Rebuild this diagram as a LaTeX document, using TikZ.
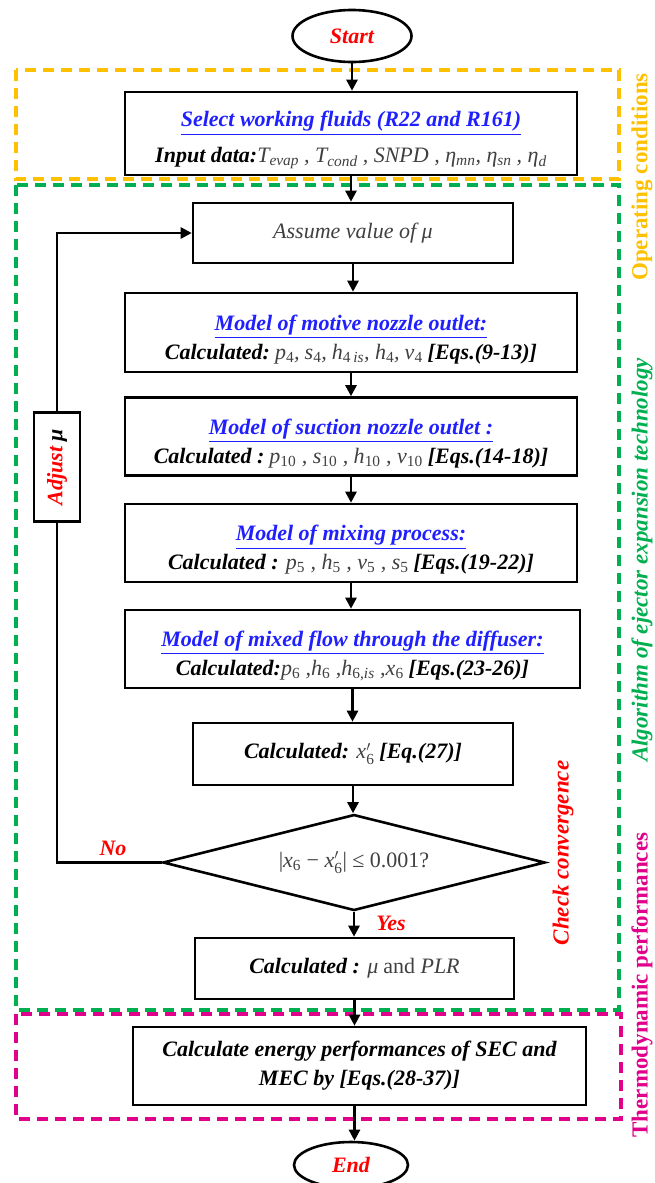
\documentclass[tikz,border=0pt]{standalone}
\usepackage{amsmath}
\usepackage{fontspec}
\setmainfont{Liberation Serif}
\usetikzlibrary{arrows.meta,shapes.geometric}
\definecolor{oc}{HTML}{FFC000}
\definecolor{gc}{HTML}{00B050}
\definecolor{mc}{HTML}{E0008C}
\definecolor{bc}{HTML}{1F1FFF}
\definecolor{rc}{HTML}{FF0000}
\definecolor{mg}{HTML}{404040}
\newcommand{\mv}[1]{{\color{mg}\mdseries\itshape #1}}
\newcommand{\bi}[1]{{\bfseries\itshape #1}}
\newcommand{\ttl}[1]{\rule{0pt}{29pt}{\color{bc}\bfseries\itshape\underline{#1}}}
\newcommand{\sbn}[1]{\textsubscript{\upshape #1}}
\newcommand{\sbi}[1]{\textsubscript{\itshape #1}}
\newcommand{\xpr}{x$^{\prime}_{\text{\upshape 6}}$}
\newcommand{\gp}{\hspace{5pt}}
\tikzset{
  box/.style={draw, line width=2.6pt, rectangle, align=center, inner sep=2pt,
    font=\fontsize{22}{29}\selectfont},
  term/.style={draw, line width=2.6pt, ellipse, inner sep=0pt,
    font=\fontsize{22}{22}\selectfont\bfseries\itshape, text=rc},
  arr/.style={line width=2.6pt, -{Triangle[length=11pt,width=11pt]}},
  ln/.style={line width=2.6pt},
  grp/.style={line width=3.2pt, dash pattern=on 11pt off 7pt},
  side/.style={rotate=90, font=\fontsize{23}{23}\selectfont\bfseries},
  lab/.style={font=\fontsize{22}{22}\selectfont\bfseries\itshape, text=rc},
}
\begin{document}
\begin{tikzpicture}[x=1pt,y=-1pt]
\useasboundingbox (0,0) rectangle (654,1183);

% group frames
\draw[grp, oc] (16,70) rectangle (619,179);
\draw[grp, gc] (16,185) rectangle (619,1010);
\draw[grp, mc] (16,1014) rectangle (621,1119);

% nodes
\node[term, minimum width=119pt, minimum height=52pt] (start) at (352,36) {Start};
\node[box, minimum width=452pt, minimum height=83pt] (sel) at (351,133.5)
  {\ttl{Select working fluids (R22 and R161)}\\[7pt]
   \bi{Input data:}\mv{T\sbi{evap}\gp, T\sbi{cond}\gp, SNPD , η\sbi{mn}, η\sbi{sn}\gp, η\sbi{d}}};
\node[box, minimum width=320pt, minimum height=60pt] (assume) at (353,233)
  {\mv{Assume value of μ}};
\node[box, minimum width=452pt, minimum height=79pt] (motive) at (351,332.5)
  {\ttl{Model of motive nozzle outlet:}\\
   \bi{Calculated:}\gp\mv{p\sbn{4},\gp s\sbn{4},\gp h\textsubscript{\upshape 4\,\itshape is}, h\sbn{4},\gp v\sbn{4}}\gp\bi{[Eqs.(9-13)]}};
\node[box, minimum width=452pt, minimum height=78pt] (suction) at (351,436.5)
  {\ttl{Model of suction nozzle outlet :}\\
   \bi{Calculated :}\gp\mv{p\sbn{10} , s\sbn{10} , h\sbn{10} , v\sbn{10}}\gp\bi{[Eqs.(14-18)]}};
\node[box, minimum width=452pt, minimum height=78pt] (mixing) at (351,543)
  {\ttl{Model of mixing process:}\\
   \bi{Calculated :} \mv{p\sbn{5} , h\sbn{5} , v\sbn{5} , s\sbn{5}}\gp\bi{[Eqs.(19-22)]}};
\node[box, minimum width=455pt, minimum height=78pt] (diffuser) at (352.5,649)
  {\ttl{Model of mixed flow through the diffuser:}\\
   \bi{Calculated:}\mv{p\sbn{6} ,h\sbn{6} ,h\textsubscript{\upshape 6,\itshape is} ,x\sbn{6}}\gp\bi{[Eqs.(23-26)]}};
\node[box, minimum width=320pt, minimum height=62pt] (xbox) at (353,754)
  {\bi{Calculated:} \mv{\xpr}\gp\bi{[Eq.(27)]}};
\node[draw, line width=2.6pt, diamond, aspect=3.98, inner sep=0pt, minimum width=382pt, minimum height=96pt,
  font=\fontsize{22}{22}\selectfont] (dia) at (354,862.5)
  {\mv{\upshape|\itshape x\sbn{6} \upshape− \itshape\xpr\upshape| ≤ 0.001?}};
\node[box, minimum width=319pt, minimum height=61pt] (calc) at (354.5,968.5)
  {\bi{Calculated :} \mv{μ}\gp\mv{\upshape and} \mv{PLR}};
\node[box, minimum width=453pt, minimum height=78pt] (energy) at (359.5,1066)
  {\bi{Calculate energy performances of SEC and}\\ \bi{MEC by [Eqs.(28-37)]}};
\node[term, minimum width=114pt, minimum height=46pt] (end) at (351,1165) {End};

\node[box, rotate=90, minimum width=109pt, minimum height=46pt] (adj) at (57,467)
  {\bi{\color{rc}Adjust} \bi{μ}};

% side labels
\node[side, text=oc] (opc) at (642,177) {Operating conditions};
\node[side, text=gc, font=\fontsize{23}{23}\selectfont\bfseries\itshape] (alg) at (642,560) {Algorithm of ejector expansion technology};
\node[side, text=rc, font=\fontsize{23}{23}\selectfont\bfseries\itshape] (chk) at (563,853) {Check convergence};
\node[side, text=mc] (thp) at (642,985) {Thermodynamic performances};

\node[lab] (no) at (113,848) {No};
\node[lab] (yes) at (391,923) {Yes};

% connectors
\draw[arr] (start.south) -- (start.south |- sel.north);
\draw[arr] (sel.south) -- (sel.south |- assume.north);
\draw[arr] (assume.south) -- (assume.south |- motive.north);
\draw[arr] (motive.south) -- (motive.south |- suction.north);
\draw[arr] (suction.south) -- (suction.south |- mixing.north);
\draw[arr] (mixing.south) -- (mixing.south |- diffuser.north);
\draw[arr] (diffuser.south) -- (diffuser.south |- xbox.north);
\draw[arr] (xbox.south) -- (xbox.south |- dia.north);
\draw[arr] (dia.south) -- (dia.south |- calc.north);
\draw[arr] (calc.south) -- (calc.south |- energy.north);
\draw[arr] (energy.south -| calc.south) -- (end.north -| calc.south);
\draw[ln] (dia.west) -| (adj.west);
\draw[arr] (adj.east) |- (assume.west);
\end{tikzpicture}
\end{document}
